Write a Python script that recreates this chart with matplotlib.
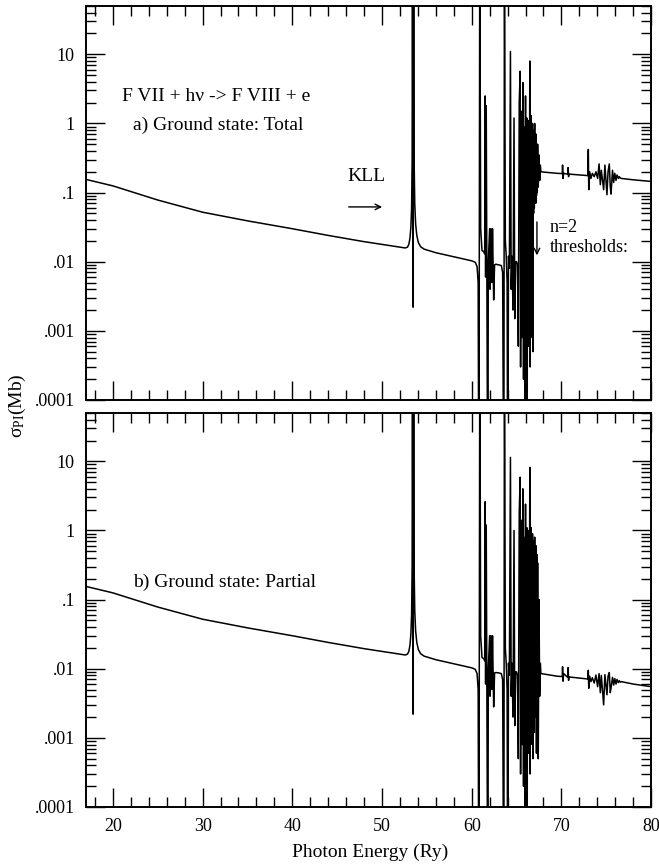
import matplotlib
matplotlib.use("Agg")
import matplotlib.pyplot as plt
from matplotlib.ticker import FixedLocator, LogLocator, FuncFormatter, NullFormatter

plt.rcParams['font.family'] = ['Liberation Serif', 'DejaVu Serif']
plt.rcParams['mathtext.fontset'] = 'stix'

# background + KLL resonance, same in both panels
energy_low = [17.0, 20.0, 25.0, 30.0, 35.0, 40.0, 44.0, 48.0, 52.0, 52.6,
              52.85, 53.0, 53.12, 53.22, 53.3, 53.36, 53.40, 53.47, 53.53, 53.58,
              53.65, 53.75, 53.88, 54.05, 54.3, 54.7, 56.0, 58.0, 60.0, 60.4,
              60.6, 60.72, 60.8, 60.9, 61.0, 61.15, 61.35]
sigma_low = [0.155, 0.125, 0.078, 0.052, 0.039, 0.030, 0.024, 0.0195, 0.0162, 0.0158,
             0.0163, 0.018, 0.022, 0.032, 0.06, 0.3, 300.0, 0.0022, 300.0, 0.3,
             0.07, 0.035, 0.024, 0.019, 0.0165, 0.0152, 0.0135, 0.0118, 0.0103, 0.0098,
             0.0085, 0.005, 1e-6, 500.0, 0.03, 0.0145, 0.014]

# n=2 resonances and above-threshold region
energy_high = [61.45, 61.50, 61.55, 61.62, 61.70, 61.80, 61.85, 62.00, 62.05, 62.15,
               62.25, 62.32, 62.45, 62.55, 62.70, 63.00, 63.30, 63.45, 63.58, 63.65,
               63.75, 63.85, 63.95, 64.02, 64.10, 64.20, 64.32, 64.40, 64.50, 64.60,
               64.72, 64.80, 64.90, 65.00, 65.10, 65.20, 65.30, 65.40, 65.45, 65.55,
               65.62, 65.70, 65.78, 65.82, 65.86, 65.90, 65.93, 66.00, 66.04, 66.08,
               66.11, 66.14, 66.18, 66.22, 66.26, 66.30, 66.33, 66.37, 66.41, 66.48,
               66.52, 66.56, 66.60, 66.63, 66.67, 66.71, 66.74, 66.78, 66.82, 66.86,
               66.90, 66.94, 66.98, 67.02, 67.06, 67.10, 67.14, 67.18, 67.22, 67.26,
               67.30, 67.35, 67.42, 67.50, 67.58, 67.65, 67.72, 68.0, 69.5, 70.10,
               70.13, 70.18, 70.25, 70.70, 70.75, 70.80, 70.85, 72.5, 72.95, 73.0,
               73.05, 73.15, 73.29, 73.45, 73.66, 73.85, 74.04, 74.2, 74.34, 74.45,
               74.71, 74.85, 75.08, 75.2, 75.34, 75.45, 75.53, 75.7, 75.83, 75.95,
               76.09, 76.2, 76.35, 76.45, 76.57, 76.7, 78.0, 80.0]

# a) total
sigma_a = [0.013, 2.5, 0.006, 1.8, 0.003, 1e-6, 0.01, 0.03, 0.004, 0.03,
           0.005, 0.03, 0.0028, 0.009, 0.0092, 0.009, 0.0088, 0.007, 1e-6, 500.0,
           0.02, 0.012, 0.005, 1e-6, 0.012, 0.008, 11.0, 0.004, 0.012, 0.002,
           1.2, 0.0015, 0.01, 0.01, 0.009, 0.0006, 2.0, 5.7, 0.0003, 1.5,
           0.0008, 3.9, 0.0002, 0.9, 0.001, 0.6, 1e-6, 2.5, 0.0004, 0.7,
           0.002, 1.2, 1e-6, 0.9, 0.003, 0.6, 0.0006, 1.1, 0.004, 8.0,
           0.0003, 0.9, 0.002, 1.3, 0.001, 0.7, 0.0008, 1.0, 0.0005, 0.6,
           0.05, 0.8, 0.06, 1.0, 0.08, 0.6, 0.07, 0.7, 0.09, 0.5,
           0.1, 0.5, 0.12, 0.35, 0.15, 0.25, 0.2, 0.198, 0.19, 0.188,
           0.25, 0.16, 0.19, 0.184, 0.23, 0.17, 0.185, 0.178, 0.176, 0.42,
           0.11, 0.2, 0.16, 0.19, 0.17, 0.2, 0.16, 0.26, 0.13, 0.21,
           0.11, 0.25, 0.093, 0.2, 0.26, 0.12, 0.095, 0.21, 0.14, 0.19,
           0.15, 0.18, 0.16, 0.17, 0.162, 0.16, 0.153, 0.145]

# b) partial
sigma_b = [0.013, 2.6, 0.006, 1.2, 0.003, 1e-6, 0.01, 0.03, 0.004, 0.03,
           0.005, 0.03, 0.0028, 0.0087, 0.0088, 0.0087, 0.0085, 0.007, 1e-6, 500.0,
           0.02, 0.012, 0.005, 1e-6, 0.012, 0.008, 11.4, 0.004, 0.012, 0.002,
           1.0, 0.0015, 0.009, 0.009, 0.008, 0.0005, 1.8, 5.9, 0.0003, 1.4,
           0.0008, 4.0, 0.0002, 0.8, 0.001, 0.5, 1e-6, 2.4, 0.0004, 0.6,
           0.002, 1.1, 1e-6, 0.8, 0.003, 0.5, 0.0006, 1.0, 0.004, 8.2,
           0.0003, 0.8, 0.002, 1.1, 0.001, 0.6, 0.0008, 0.9, 0.0005, 0.5,
           0.0015, 0.7, 0.0012, 0.8, 0.003, 0.5, 0.002, 0.6, 0.0006, 0.45,
           0.0006, 0.34, 0.0005, 0.1, 0.004, 0.012, 0.0085, 0.0084, 0.0078, 0.0077,
           0.0107, 0.0066, 0.0085, 0.0075, 0.0104, 0.0068, 0.0076, 0.0072, 0.0071, 0.0095,
           0.0052, 0.0078, 0.0065, 0.0074, 0.0062, 0.0081, 0.0055, 0.0085, 0.0045, 0.008,
           0.003, 0.0082, 0.0042, 0.0078, 0.0088, 0.0045, 0.0052, 0.0075, 0.0058, 0.0072,
           0.006, 0.007, 0.0063, 0.0067, 0.0064, 0.0065, 0.006, 0.0055]

yticks = [1e-4, 1e-3, 1e-2, 1e-1, 1, 10]
ylabels = ['.0001', '.001', '.01', '.1', '1', '10']

fig = plt.figure(figsize=(6.59, 8.68), dpi=100)
ax_a = fig.add_axes([0.1305, 0.5392, 0.8575, 0.4539])
ax_b = fig.add_axes([0.1305, 0.0703, 0.8575, 0.4539])

for ax, s in [(ax_a, sigma_a), (ax_b, sigma_b)]:
    ax.plot(energy_low + energy_high, sigma_low + s, color='black', lw=1.1)
    ax.set_yscale('log')
    ax.set_xlim(17, 80)
    ax.set_ylim(1e-4, 50)
    ax.xaxis.set_major_locator(FixedLocator([20, 30, 40, 50, 60, 70, 80]))
    ax.xaxis.set_minor_locator(FixedLocator(range(18, 81, 2)))
    ax.yaxis.set_major_locator(FixedLocator(yticks))
    ax.yaxis.set_major_formatter(FuncFormatter(lambda v, p: ylabels[yticks.index(v)] if v in yticks else ''))
    ax.yaxis.set_minor_locator(LogLocator(base=10, subs=range(2, 10), numticks=20))
    ax.yaxis.set_minor_formatter(NullFormatter())
    ax.tick_params(which='both', direction='in', top=True, right=True, width=1.0, labelsize=13)
    ax.tick_params(which='major', length=14, pad=8)
    ax.tick_params(which='minor', length=7.5)
    for sp in ax.spines.values():
        sp.set_linewidth(1.4)

ax_a.tick_params(labelbottom=False)

ax_a.text(0.064, 0.769, 'F VII + hν -> F VIII + e', transform=ax_a.transAxes,
          fontsize=14, va='center', ha='left')
ax_a.text(0.083, 0.698, 'a) Ground state: Total', transform=ax_a.transAxes,
          fontsize=14, va='center', ha='left')
ax_a.text(0.462, 0.566, 'KLL', transform=ax_a.transAxes, fontsize=14, va='center', ha='left')
ax_a.annotate('', xy=(0.529, 0.490), xytext=(0.460, 0.490), xycoords='axes fraction',
              arrowprops=dict(arrowstyle='->', color='black', lw=1.0))
ax_a.text(0.821, 0.437, 'n=2', transform=ax_a.transAxes, fontsize=13, va='center', ha='left')
ax_a.text(0.821, 0.388, 'thresholds:', transform=ax_a.transAxes, fontsize=13, va='center', ha='left')
ax_a.annotate('', xy=(0.798, 0.360), xytext=(0.798, 0.459), xycoords='axes fraction',
              arrowprops=dict(arrowstyle='->', color='black', lw=1.0))

ax_b.text(0.083, 0.569, 'b) Ground state: Partial', transform=ax_b.transAxes,
          fontsize=14, va='center', ha='left')

fig.text(0.027, 0.533, r'$\mathregular{σ_{PI}}$(Mb)', rotation=90, fontsize=14, va='center', ha='center')
fig.text(0.562, 0.018, 'Photon Energy (Ry)', fontsize=14, va='center', ha='center')

fig.savefig('out.png', dpi=100)
